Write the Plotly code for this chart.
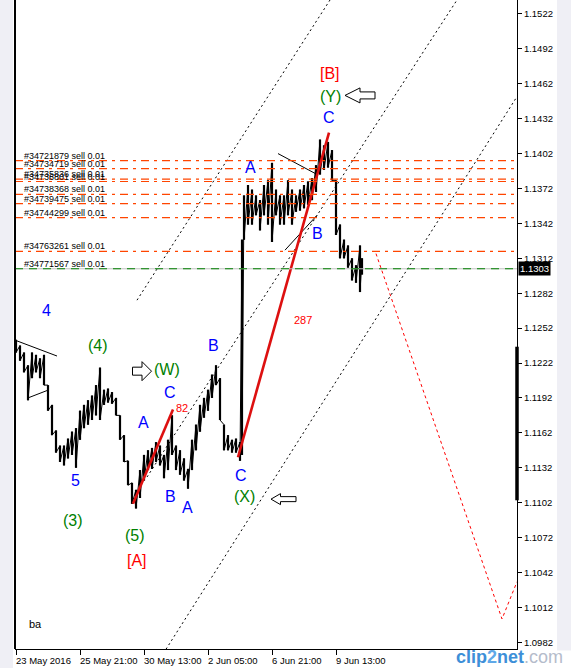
import plotly.graph_objects as go

# ---------------- data ----------------
bar_index = [0, 4, 8, 12, 16, 20, 24, 28, 32, 36, 40, 44, 48, 52, 56, 60, 64, 68, 72, 76,
             80, 84, 88, 92, 96, 100, 104, 108, 112, 116, 120, 124, 128, 132, 136, 140,
             144, 148, 152, 156, 160, 164, 168, 172, 176, 180, 184, 188, 192, 196, 200,
             204, 208, 212, 216, 220, 224, 226, 228, 232, 236, 240, 244, 248, 252, 256,
             260, 264, 268, 272, 276, 280, 284, 288, 292, 296, 300, 304, 308, 312, 316,
             320, 324, 328, 332, 336, 340, 344, 346]
bar_high = [1.1242, 1.1237, 1.1231, 1.1220, 1.1231, 1.1229, 1.1226, 1.1229, 1.1203, 1.1186,
            1.1164, 1.1151, 1.1151, 1.1157, 1.1163, 1.1166, 1.1181, 1.1186, 1.1190, 1.1194,
            1.1203, 1.1218, 1.1199, 1.1200, 1.1197, 1.1192, 1.1177, 1.1160, 1.1138, 1.1119,
            1.1113, 1.1130, 1.1143, 1.1147, 1.1149, 1.1154, 1.1151, 1.1143, 1.1156, 1.1177,
            1.1151, 1.1147, 1.1140, 1.1131, 1.1156, 1.1169, 1.1186, 1.1192, 1.1199, 1.1212,
            1.1220, 1.1209, 1.1169, 1.1160, 1.1156, 1.1157, 1.1154, 1.1328, 1.1366, 1.1375,
            1.1371, 1.1366, 1.1362, 1.1375, 1.1379, 1.1394, 1.1371, 1.1366, 1.1366, 1.1379,
            1.1371, 1.1366, 1.1371, 1.1375, 1.1378, 1.1381, 1.1392, 1.1414, 1.1409, 1.1412,
            1.1405, 1.1379, 1.1341, 1.1328, 1.1323, 1.1312, 1.1306, 1.1323, 1.1312]
bar_low = [1.1231, 1.1224, 1.1214, 1.1190, 1.1209, 1.1214, 1.1209, 1.1203, 1.1181, 1.1160,
           1.1145, 1.1137, 1.1134, 1.1140, 1.1143, 1.1132, 1.1156, 1.1166, 1.1169, 1.1173,
           1.1177, 1.1173, 1.1186, 1.1188, 1.1187, 1.1177, 1.1156, 1.1137, 1.1117, 1.1101,
           1.1097, 1.1106, 1.1121, 1.1130, 1.1131, 1.1137, 1.1134, 1.1123, 1.1130, 1.1143,
           1.1130, 1.1126, 1.1121, 1.1114, 1.1130, 1.1147, 1.1163, 1.1175, 1.1181, 1.1192,
           1.1203, 1.1173, 1.1147, 1.1147, 1.1145, 1.1145, 1.1138, 1.1143, 1.1328, 1.1341,
           1.1341, 1.1349, 1.1336, 1.1349, 1.1341, 1.1326, 1.1349, 1.1341, 1.1341, 1.1349,
           1.1341, 1.1352, 1.1353, 1.1355, 1.1358, 1.1362, 1.1369, 1.1384, 1.1388, 1.1390,
           1.1379, 1.1332, 1.1312, 1.1312, 1.1304, 1.1293, 1.1291, 1.1283, 1.1298]

current_price = 1.1303

x_tick_bars = [0, 64, 128, 192, 256, 320]
x_tick_labels = ["23 May 2016", "25 May 21:00", "30 May 13:00", "2 Jun 05:00",
                 "6 Jun 21:00", "9 Jun 13:00"]
y_tick_values = [1.0982, 1.1012, 1.1042, 1.1072, 1.1102, 1.1132, 1.1162, 1.1192, 1.1222,
                 1.1252, 1.1282, 1.1312, 1.1342, 1.1372, 1.1402, 1.1432, 1.1462, 1.1492,
                 1.1522]

order_tickets = ["#34721879", "#34734719", "#34735836", "#34736801", "#34738368",
                 "#34739475", "#34744299", "#34763261", "#34771567"]
order_prices = [1.1396, 1.1389, 1.1380, 1.1378, 1.1367, 1.1359, 1.1347, 1.1318, 1.1303]
order_lots = [0.01, 0.01, 0.01, 0.01, 0.01, 0.01, 0.01, 0.01, 0.01]

# wave segments (bar, price)
wave_w_bar = [117, 157]
wave_w_price = [1.1101, 1.1182]
wave_y_bar = [222, 313]
wave_y_price = [1.1141, 1.1420]
projection_bar = [360, 486, 501]
projection_price = [1.1316, 1.1002, 1.1034]

channel_a_bar = [121, 314]
channel_a_price = [1.1276, 1.1534]
channel_b_bar = [131, 441]
channel_b_price = [1.1124, 1.1534]
channel_c_bar = [150, 501]
channel_c_price = [1.0976, 1.1451]

trend_segments = [  # (bar0, price0, bar1, price1)
    (1, 1.1241, 41, 1.1228),
    (12, 1.1192, 33, 1.1199),
    (262, 1.1402, 299, 1.1385),
    (269, 1.1319, 301, 1.1349),
]

BLUE, GREEN, RED = "#0000FF", "#008000", "#FF0000"
wave_labels = [  # (text, bar, price, colour, size)
    ("4", 30, 1.1267, BLUE, 16), ("(4)", 82, 1.1237, GREEN, 16),
    ("5", 59, 1.1121, BLUE, 16), ("(3)", 57, 1.1087, GREEN, 16),
    ("(5)", 119, 1.1074, GREEN, 16), ("[A]", 121, 1.1052, RED, 16),
    ("A", 127, 1.1171, BLUE, 16), ("C", 154, 1.1197, BLUE, 16),
    ("82", 166, 1.1183, RED, 11), ("B", 154, 1.1107, BLUE, 16),
    ("A", 171, 1.1098, BLUE, 16), ("(W)", 151, 1.1216, GREEN, 16),
    ("B", 197, 1.1237, BLUE, 16), ("C", 225, 1.1125, BLUE, 16),
    ("(X)", 228, 1.1107, GREEN, 16), ("A", 234, 1.1390, BLUE, 16),
    ("B", 301, 1.1333, BLUE, 16), ("C", 313, 1.1433, BLUE, 16),
    ("(Y)", 314, 1.1451, GREEN, 16), ("[B]", 314, 1.1471, RED, 16),
    ("287", 287, 1.1259, RED, 11),
]
arrow_marks = [  # (direction, bar, price)
    ("right", 126, 1.1215), ("left", 267.5, 1.1105), ("left", 344, 1.1452),
]
side_bar_top, side_bar_bottom = 1.1236, 1.1104

# ---------------- figure ----------------
W, H = 571, 668
ML, MR, MT, MB = 15, 54, 0, 19
fig = go.Figure()

# price: vertical high-low bars plus a joining zigzag
bx_v, by_v, zx, zy = [], [], [], []
for b, h, l in zip(bar_index, bar_high, bar_low):
    bx_v += [b, b, None]
    by_v += [l, h, None]
    zx += [b, b]
    zy += [h, l]
fig.add_trace(go.Scatter(x=zx, y=zy, mode="lines",
                         line=dict(color="black", width=1), hoverinfo="skip"))
fig.add_trace(go.Scatter(x=bx_v, y=by_v, mode="lines",
                         line=dict(color="black", width=2.2), hoverinfo="skip"))

# channel lines (dotted)
for cx, cy in [(channel_a_bar, channel_a_price), (channel_b_bar, channel_b_price),
               (channel_c_bar, channel_c_price)]:
    fig.add_trace(go.Scatter(x=cx, y=cy, mode="lines",
                             line=dict(color="black", width=1, dash="2px,3px"),
                             hoverinfo="skip"))
# thin trend segments
for b0, p0, b1, p1 in trend_segments:
    fig.add_trace(go.Scatter(x=[b0, b1], y=[p0, p1], mode="lines",
                             line=dict(color="black", width=1), hoverinfo="skip"))
# red wave lines
for wx, wy in [(wave_w_bar, wave_w_price), (wave_y_bar, wave_y_price)]:
    fig.add_trace(go.Scatter(x=wx, y=wy, mode="lines",
                             line=dict(color="#DD1010", width=2.6), hoverinfo="skip"))
fig.add_trace(go.Scatter(x=projection_bar, y=projection_price, mode="lines",
                         line=dict(color="#FF0000", width=1, dash="3px,3px"),
                         hoverinfo="skip"))

shapes = []
# background panels
shapes.append(dict(type="rect", xref="paper", yref="paper", x0=-ML / 502, x1=-2 / 502,
                   y0=-MB / 649, y1=1, fillcolor="#EFEFF5", line_width=0, layer="below"))
shapes.append(dict(type="rect", xref="paper", yref="paper", x0=(557 - 15) / 502,
                   x1=(571 - 15) / 502, y0=-MB / 649, y1=1, fillcolor="#EFEFF5",
                   line_width=0, layer="below"))
# bid line and order lines
shapes.append(dict(type="line", xref="paper", yref="y", x0=0, x1=1, y0=current_price,
                   y1=current_price, line=dict(color="#C0C0C0", width=1)))
for i, p in enumerate(order_prices):
    if i == len(order_prices) - 1:
        ln = dict(color="#008000", width=1.2, dash="8px,6px")
    else:
        ln = dict(color="#FF4500", width=1.2, dash="8px,5px,3px,5px")
    shapes.append(dict(type="line", xref="paper", yref="y", x0=0, x1=1, y0=p, y1=p, line=ln))
# plot border (left) and black bar at right axis
shapes.append(dict(type="line", xref="paper", yref="paper", x0=0, x1=0, y0=0, y1=1,
                   line=dict(color="black", width=2)))
shapes.append(dict(type="line", xref="paper", yref="y", x0=1, x1=1, y0=side_bar_top,
                   y1=side_bar_bottom, line=dict(color="black", width=3.5)))
# hollow arrows
for d, b, p in arrow_marks:
    if d == "right":
        path = "M -9.5,-4 L 0,-4 L 0,-9.5 L 9.5,0 L 0,9.5 L 0,4 L -9.5,4 Z"
    elif p > 1.14:
        path = "M -15,0 L 0,-7.5 L 0,-3.5 L 15,-3.5 L 15,3.5 L 0,3.5 L 0,7.5 Z"
    else:
        path = "M -12.5,0 L -3,-5.5 L -3,-2.5 L 12.5,-2.5 L 12.5,2.5 L -3,2.5 L -3,5.5 Z"
    shapes.append(dict(type="path", xref="x", yref="y", xsizemode="pixel",
                       ysizemode="pixel", xanchor=b, yanchor=p, path=path,
                       fillcolor="white", line=dict(color="black", width=1)))
# white area under watermark
shapes.append(dict(type="rect", xref="paper", yref="paper", x0=(445 - 15) / 502,
                   x1=(571 - 15) / 502, y0=-MB / 649, y1=-1.5 / 649,
                   fillcolor="white", line_width=0))

annotations = []
for t, p, lot in zip(order_tickets, order_prices, order_lots):
    annotations.append(dict(xref="paper", yref="y", x=(22 - 15) / 502, y=p,
                            text=f"{t} sell {lot:.2f}", showarrow=False, xanchor="left",
                            yanchor="bottom", yshift=-2,
                            font=dict(family="Liberation Sans", size=9, color="black")))
for t, b, p, c, s in wave_labels:
    annotations.append(dict(x=b, y=p, text=t, showarrow=False,
                            font=dict(family="Liberation Sans", size=s, color=c)))
for b, lab in zip(x_tick_bars, x_tick_labels):
    annotations.append(dict(x=b, xref="x", y=0, yref="paper", text=lab, showarrow=False,
                            xanchor="left", yanchor="middle", yshift=-11, xshift=-2,
                            font=dict(family="Liberation Sans", size=9.5, color="black")))
annotations.append(dict(xref="paper", yref="y", x=1, y=current_price, text="1.1303",
                        showarrow=False, xanchor="left", xshift=1, bgcolor="black",
                        borderpad=1,
                        font=dict(family="Liberation Sans", size=9.5, color="white")))
annotations.append(dict(xref="paper", yref="paper", x=(27 - 15) / 502, y=17 / 649,
                        text="ba", showarrow=False,
                        font=dict(family="Liberation Sans", size=11, color="black")))
annotations.append(dict(xref="paper", yref="paper", x=(509 - 15) / 502, y=-8 / 649,
                        xanchor="center", yanchor="middle",
                        text="<b><span style='color:#3D8FD8'>clip</span>"
                             "<span style='color:#5FA8E8'>2</span>"
                             "<span style='color:#3D8FD8'>net</span></b>"
                             "<span style='color:#B5BCCB'>.com</span>",
                        showarrow=False,
                        font=dict(family="Liberation Sans", size=18)))

fig.update_layout(
    width=W, height=H, margin=dict(l=ML, r=MR, t=MT, b=MB),
    paper_bgcolor="white", plot_bgcolor="white", showlegend=False,
    shapes=shapes, annotations=annotations,
    xaxis=dict(range=[-1, 501], showgrid=False, zeroline=False, showline=True,
               linecolor="black", linewidth=1, ticks="outside", ticklen=5,
               tickcolor="black", tickvals=x_tick_bars, showticklabels=False),
    yaxis=dict(range=[1.09762, 1.15340], side="right", showgrid=False, zeroline=False,
               showline=True, linecolor="black", linewidth=1, ticks="outside", ticklen=4,
               tickcolor="black", tickvals=y_tick_values,
               ticktext=[f"{v:.4f}" for v in y_tick_values],
               tickfont=dict(family="Liberation Sans", size=9.5, color="black")),
)
fig.write_html("out.html", config={"displayModeBar": False},
               post_script="document.body.style.margin='0px';"
                           "document.body.style.padding='0px';")
